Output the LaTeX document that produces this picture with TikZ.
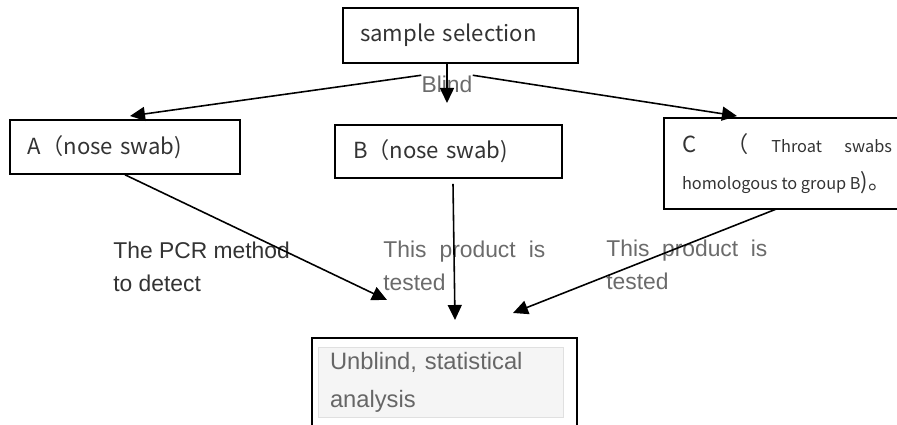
\documentclass[tikz,border=0pt]{standalone}
\usepackage{fontspec}
\setmainfont{Liberation Sans}
\newfontfamily\cjkfont{Noto Sans CJK SC}
\usetikzlibrary{positioning, arrows.meta}

\begin{document}
\begin{tikzpicture}
		\tikzstyle{box} = [draw, line width=0.9pt, inner ysep=0, align=left, 
		text=black!80, font=\cjkfont\fontsize{12.6}{16}\selectfont]
		\tikzstyle{note} = [inner sep=0, anchor=west, text=black!58, 
		font=\fontsize{13}{18.7}\selectfont]
		\tikzstyle{arrow} = [line width=0.9pt, -{Triangle[length=0.3cm,width=0.28cm]}]
		
		\useasboundingbox (0,0) rectangle (17.94,-8.5);
		
		\node [box, text width=4.02cm, inner xsep=0.34cm, minimum height=1.1cm] (v1) at (9.21,-0.71) {sample selection};
		\node [note, anchor=center] (v2) at (8.94,-1.68) {Blind};
		\node [box, text width=3.88cm, inner xsep=0.36cm, minimum height=1.08cm] (v3) at (2.5,-2.94) {A（nose swab)};
		\node [box, text width=3.82cm, inner xsep=0.36cm, minimum height=1.06cm] (v4) at (8.97,-3.03) {B（nose swab)};
		\node [box, draw=none, text width=4.2cm, inner xsep=0.34cm, minimum height=1.78cm, align=justify,
		font=\cjkfont\fontsize{9.3}{21}\selectfont] (v5) at (15.74,-3.27)
		{{\fontsize{12.6}{21}\selectfont C （} Throat swabs\linebreak 
		\mbox{homologous to group B{\fontsize{12.6}{21}\selectfont)。}}};
		\draw [line width=0.9pt] (v5.south west) rectangle ([xshift=1cm]v5.north east);
		\node [box, minimum width=5.3cm, minimum height=2.44cm] (v6) at (8.89,-7.98) {};
		\node [fill=black!4, draw=black!12, inner xsep=0.24cm, inner ysep=0, minimum height=1.4cm, 
		text width=4.42cm, align=left, text=black!60, font=\fontsize{13.5}{21.5}\selectfont] (v7) at (8.81,-7.64)
		{Unblind, statistical\\ analysis};
		
		\node [note, text=black!80, align=left] (v8) at (2.26,-5.33) {The PCR method\\ to detect};
		\node [note, text width=3.24cm, align=justify] (v9) at (7.66,-5.32) {This product is tested};
		\node [note, text width=3.22cm, align=justify] (v10) at (12.12,-5.3) {This product is tested};
		
		\coordinate (c1) at (8.94,-2.06);
		\coordinate (c2) at (2.6,-2.32);
		\coordinate (c3) at (14.74,-2.32);
		\coordinate (c4) at (7.74,-6.0);
		\coordinate (c5) at (9.1,-6.4);
		\coordinate (c6) at (10.26,-6.26);
		
		\draw [arrow] (v1.south -| v2) -- (c1);
		\draw [arrow] (v2.north west) -- (c2);
		\draw [arrow] (v2.north east) -- (c3);
		\draw [arrow] (v3.south) -- (c4);
		\draw [arrow] ([xshift=0.09cm,yshift=-0.1cm]v4.south) -- (c5);
		\draw [arrow] (v5.south -| 15.54,0) -- (c6);
\end{tikzpicture}
\end{document}
